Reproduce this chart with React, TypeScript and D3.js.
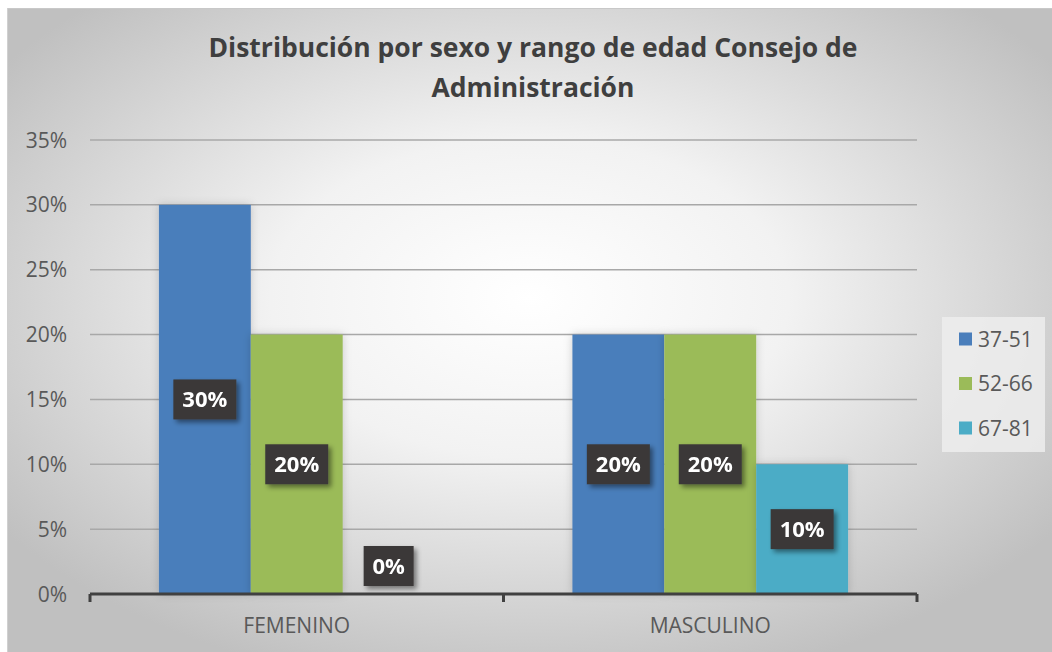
import React from "react";
import * as d3 from "d3";

const categories = ["FEMENINO", "MASCULINO"];
const series = ["37-51", "52-66", "67-81"];
const values37_51 = [0.3, 0.2];
const values52_66 = [0.2, 0.2];
const values67_81 = [0.0, 0.1];
const seriesValues = [values37_51, values52_66, values67_81];
const seriesColors = ["#4a7ebb", "#9bbb59", "#4bacc6"];
const yTicks = [0, 0.05, 0.1, 0.15, 0.2, 0.25, 0.3, 0.35];
const titleLines = ["Distribución por sexo y rango de edad Consejo de", "Administración"];

const W = 1052;
const H = 652;
const FONT = "'Open Sans', 'Noto Sans', sans-serif";

export default function App() {
  const x0 = d3.scaleBand<string>().domain(categories).range([90, 917]).paddingInner(0).paddingOuter(0);
  const x1 = d3
    .scaleBand<string>()
    .domain(series)
    .range([0, x0.bandwidth()])
    .paddingInner(0)
    .paddingOuter(0.75);
  const y = d3.scaleLinear().domain([0, 0.35]).range([594, 140]);
  const fmt = d3.format(".0%");

  const bars: { cat: string; s: string; v: number; i: number }[] = [];
  categories.forEach((cat, ci) => {
    series.forEach((s, si) => {
      bars.push({ cat, s, v: seriesValues[si][ci], i: si });
    });
  });

  return (
    <svg
      width={W}
      height={H}
      style={{ position: "absolute", left: 0, top: 0, display: "block" }}
      xmlns="http://www.w3.org/2000/svg"
    >
      <defs>
        <radialGradient id="bg" cx="50%" cy="45%" r="62%" fx="50%" fy="45%">
          <stop offset="0%" stopColor="#ffffff" />
          <stop offset="40%" stopColor="#f2f2f2" />
          <stop offset="100%" stopColor="#c0c0c0" />
        </radialGradient>
        <filter id="lblShadow" x="-30%" y="-30%" width="170%" height="170%">
          <feDropShadow dx="3" dy="3" stdDeviation="2.5" floodColor="#000" floodOpacity="0.45" />
        </filter>
        <filter id="barShadow" x="-20%" y="-10%" width="140%" height="120%">
          <feDropShadow dx="0" dy="0" stdDeviation="4" floodColor="#000" floodOpacity="0.18" />
        </filter>
      </defs>
      <rect x={0} y={0} width={W} height={H} fill="#ffffff" />
      <rect x={7} y={8} width={W - 7} height={H - 8} fill="url(#bg)" />
      <line x1={7} x2={W} y1={8.5} y2={8.5} stroke="#c8c8c8" strokeWidth={1} />
      <line x1={7.5} x2={7.5} y1={8} y2={H} stroke="#d0d0d0" strokeWidth={1} />

      {/* title */}
      {titleLines.map((t, i) => (
        <text
          key={i}
          x={533}
          y={57 + i * 40}
          textAnchor="middle"
          fontFamily={FONT}
          fontWeight={700}
          fontSize={26.5}
          fill="#3f3f3f"
        >
          {t}
        </text>
      ))}

      {/* gridlines */}
      {yTicks.slice(1).map((t) => (
        <line key={t} x1={90} x2={917} y1={y(t)} y2={y(t)} stroke="#a8a8a8" strokeWidth={1.5} />
      ))}

      {/* y tick labels */}
      {yTicks.map((t) => (
        <text
          key={t}
          x={67}
          y={y(t)}
          dy="0.36em"
          textAnchor="end"
          fontFamily={FONT}
          fontSize={21}
          fill="#595959"
        >
          {fmt(t)}
        </text>
      ))}

      {/* bars */}
      {bars.map((b) => {
        const bx = (x0(b.cat) ?? 0) + (x1(b.s) ?? 0);
        return b.v > 0 ? (
          <rect
            key={b.cat + b.s}
            x={bx}
            y={y(b.v)}
            width={x1.bandwidth()}
            height={y(0) - y(b.v)}
            fill={seriesColors[b.i]}
            filter="url(#barShadow)"
          />
        ) : null;
      })}

      {/* x axis */}
      <line x1={90} x2={917} y1={y(0)} y2={y(0)} stroke="#404040" strokeWidth={3} />
      {[90, ...categories.map((c) => (x0(c) ?? 0) + x0.bandwidth())].map((tx, i) => (
        <line key={i} x1={tx} x2={tx} y1={y(0)} y2={y(0) + 8} stroke="#404040" strokeWidth={3} />
      ))}
      {categories.map((c) => (
        <text
          key={c}
          x={(x0(c) ?? 0) + x0.bandwidth() / 2}
          y={633}
          textAnchor="middle"
          fontFamily={FONT}
          fontSize={21}
          fill="#595959"
        >
          {c}
        </text>
      ))}

      {/* data labels */}
      {bars.map((b) => {
        const cx = (x0(b.cat) ?? 0) + (x1(b.s) ?? 0) + x1.bandwidth() / 2;
        const cy = b.v > 0 ? y(b.v / 2) : y(0) - 28;
        const label = fmt(b.v);
        const bw = 24 + 13 * label.length;
        const bh = 40;
        return (
          <g key={"l" + b.cat + b.s} filter="url(#lblShadow)">
            <rect x={cx - bw / 2} y={cy - bh / 2} width={bw} height={bh} fill="#3a3838" />
            <text
              x={cx}
              y={cy}
              dy="0.36em"
              textAnchor="middle"
              fontFamily={FONT}
              fontWeight={700}
              fontSize={22}
              fill="#ffffff"
            >
              {label}
            </text>
          </g>
        );
      })}

      {/* legend */}
      <rect x={942} y={317} width={103} height={135} fill="#ededed" opacity={0.85} />
      {series.map((s, i) => (
        <g key={s} transform={`translate(959, ${339 + i * 44.5})`}>
          <rect x={0} y={-6.5} width={13} height={13} fill={seriesColors[i]} />
          <text x={19} y={0} dy="0.36em" fontFamily={FONT} fontSize={21} fill="#595959">
            {s}
          </text>
        </g>
      ))}
    </svg>
  );
}
